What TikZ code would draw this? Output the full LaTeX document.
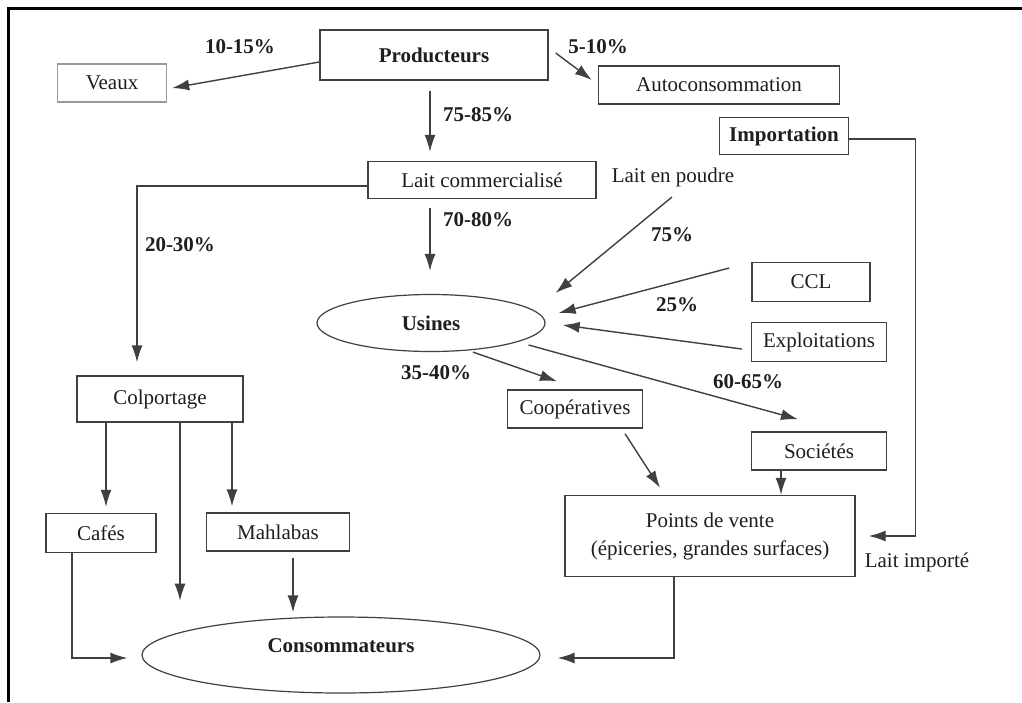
\documentclass[tikz,border=0pt]{standalone}
\usepackage{fontspec}
\setmainfont{Liberation Serif}
\usetikzlibrary{shapes.geometric,arrows.meta,calc}
\definecolor{ln}{HTML}{404040}
\definecolor{tx}{HTML}{1E1E1E}
\newcommand\myfs{\fontsize{21}{28}\selectfont}
\tikzset{
  box/.style={draw=ln,line width=1.4pt,inner sep=0pt,align=center,text=tx},
  lbox/.style={box,draw=gray!80},
  oval/.style={ellipse,draw=ln,line width=1.2pt,inner sep=0pt,text=tx},
  plain/.style={inner sep=0pt,text=tx},
  pct/.style={inner sep=0pt,text=tx,font=\myfs\bfseries},
  conn/.style={draw=ln,line width=1.4pt},
  arr/.style={conn,-{Latex[length=17pt,width=11pt]}}
}
\begin{document}
\begin{tikzpicture}[x=1pt,y=-1pt,font=\myfs]
\useasboundingbox (0,0) rectangle (1022,702);
\fill[white] (0,0) rectangle (1022,702);
\draw[line width=3pt,black] (8,702) -- (8,8) -- (1022,8);

% nodes
\node[box,font=\myfs\bfseries,minimum width=228pt,minimum height=50pt] (prod) at (434,55) {Producteurs};
\node[lbox,minimum width=109pt,minimum height=38pt] (veaux) at (112,83) {Veaux};
\node[box,minimum width=241pt,minimum height=38pt] (auto) at (719,85) {Autoconsommation};
\node[box,minimum width=228pt,minimum height=37pt] (lait) at (482,180) {Lait commercialisé};
\node[box,font=\myfs\bfseries,minimum width=129pt,minimum height=37pt] (imp) at (784,136) {Importation};
\node[plain] (poudre) at (673,177) {Lait en poudre};
\node[oval,font=\myfs\bfseries,minimum width=228pt,minimum height=57pt] (usines) at (431,323) {Usines};
\node[box,minimum width=118pt,minimum height=39pt] (ccl) at (811,282) {CCL};
\node[box,minimum width=135pt,minimum height=39pt] (expl) at (819,342) {Exploitations};
\node[box,minimum width=166pt,minimum height=46pt] (colp) at (160,399) {Colportage};
\node[box,minimum width=135pt,minimum height=38pt] (coop) at (575,409) {Coopératives};
\node[box,minimum width=135pt,minimum height=38pt] (soc) at (819,451) {Sociétés};
\node[box,minimum width=290pt,minimum height=81pt] (pdv) at (710,536) {Points de vente\\(épiceries, grandes surfaces)};
\node[box,minimum width=110pt,minimum height=39pt] (cafes) at (101,533) {Cafés};
\node[box,minimum width=143pt,minimum height=38pt] (mahl) at (278,532) {Mahlabas};
\node[oval,minimum width=398pt,minimum height=76pt] (cons) at (341,655) {};
\node[pct] (consl) at (341,646) {Consommateurs};
\node[plain] (limp) at (917,562) {Lait importé};

% percentage labels
\node[pct] (l1) at (240,47) {10-15\%};
\node[pct] (l2) at (598,47) {5-10\%};
\node[pct] (l3) at (478,115) {75-85\%};
\node[pct] (l4) at (478,220) {70-80\%};
\node[pct] (l5) at (180,245) {20-30\%};
\node[pct] (l6) at (672,235) {75\%};
\node[pct] (l7) at (677,305) {25\%};
\node[pct] (l8) at (436,373) {35-40\%};
\node[pct] (l9) at (748,382) {60-65\%};

% connectors
\draw[arr] ($(prod.west)+(0,7)$) -- ($(veaux.east)+(5,5)$);
\draw[arr] ($(prod.east)+(7,-2)$) -- ($(auto.west)+(-6,-5)$);
\draw[arr] ($(prod.south)+(-4,10)$) -- ($(lait.north)+(-52,-9)$);
\draw[arr] ($(lait.west)+(0,6)$) -| ($(colp.north)+(-23,-13)$);
\draw[arr] ($(lait.south)+(-52,9)$) -- ($(usines.north)+(-1,-23)$);
\draw[arr] ($(poudre.center)+(-1,20)$) -- ($(usines.east)+(10,-30)$);
\draw[arr] ($(ccl.west)+(-22,-14)$) -- ($(usines.east)+(13,-10)$);
\draw[arr] ($(expl.west)+(-9,7)$) -- ($(usines.east)+(17,2)$);
\draw[arr] ($(usines.south)+(42,0)$) -- ($(coop.north)+(-18,-8)$);
\draw[arr] ($(usines.east)+(-17,22)$) -- ($(soc.north)+(-21,-12)$);
\draw[arr] ($(coop.south)+(50,5)$) -- ($(pdv.north)+(-50,-7)$);
\draw[arr] ($(soc.south)+(-38,0)$) -- ($(pdv.north)+(71,0)$);
\draw[arr] ($(imp.east)+(0,3)$) -| ($(pdv.east)+(60,0)$) -- ($(pdv.east)+(13,0)$);
\draw[arr] ($(pdv.south)+(-36,0)$) |- ($(cons.east)+(17,3)$);
\draw[arr] ($(colp.south)+(-54,0)$) -- ($(cafes.north)+(5,-6)$);
\draw[arr] ($(colp.south)+(20,0)$) -- ($(colp.south)+(20,178)$);
\draw[arr] ($(colp.south)+(72,0)$) -- ($(mahl.north)+(-46,-6)$);
\draw[arr] ($(mahl.south)+(15,6)$) -- ($(cons.north)+(-48,-4)$);
\draw[arr] ($(cafes.south)+(-29,0)$) |- ($(cons.west)+(-14,3)$);
\end{tikzpicture}
\end{document}
